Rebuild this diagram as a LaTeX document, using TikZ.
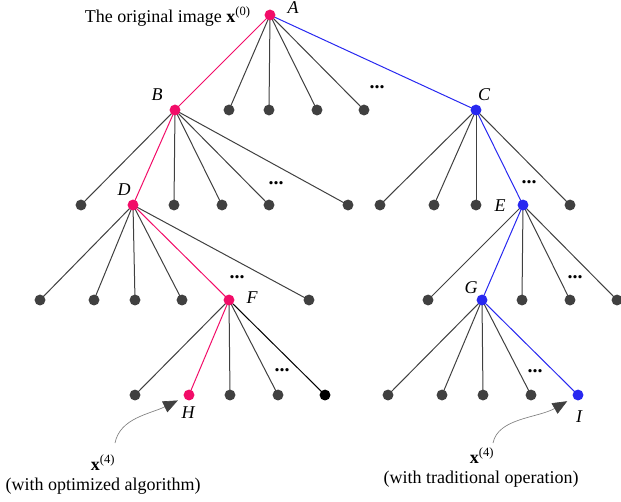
\documentclass[tikz,border=0pt]{standalone}
\usepackage{fontspec}
\setmainfont{Liberation Serif}
\usetikzlibrary{arrows.meta,backgrounds}
\definecolor{pathred}{RGB}{242,12,104}
\definecolor{pathblue}{RGB}{40,40,240}
\definecolor{dotgray}{RGB}{64,64,64}

\begin{document}
\begin{tikzpicture}[x=0.75pt,y=-0.75pt,font=\fontsize{13.5}{16}\selectfont,
   dot/.style={circle,fill=dotgray,inner sep=0pt,minimum size=8.2pt},
   reddot/.style={dot,fill=pathred},
   bluedot/.style={dot,fill=pathblue},
   edge/.style={dotgray,line width=0.75pt},
   more/.style={font=\fontsize{15}{15}\selectfont\bfseries,anchor=base,inner sep=0pt},
   lbl/.style={font=\fontsize{13.5}{16}\selectfont\itshape,anchor=base,inner sep=0pt},
   pointer/.style={-{Triangle[length=11pt,width=9pt,color=dotgray]},gray,line width=0.5pt,shorten >=5pt}]
  \useasboundingbox (0,0) rectangle (621,501);
  \node[reddot]  (A) at (270,15) {};
  \node[reddot]  (B) at (175,110) {};
  \node[bluedot] (C) at (476,110) {};
  \node[reddot]  (D) at (133,205) {};
  \node[bluedot] (E) at (523,205) {};
  \node[reddot]  (F) at (229,300) {};
  \node[bluedot] (G) at (482,300) {};
  \node[reddot]  (H) at (189,395) {};
  \node[bluedot] (I) at (578,395) {};
  \foreach \x [count=\i] in {229,269,317,364} \node[dot] (a\i) at (\x,110) {};
  \foreach \x [count=\i] in {81,174,222,269,348} \node[dot] (b\i) at (\x,205) {};
  \foreach \x [count=\i] in {380,434,476,570} \node[dot] (c\i) at (\x,205) {};
  \foreach \x [count=\i] in {40,94,135,182,309} \node[dot] (d\i) at (\x,300) {};
  \foreach \x [count=\i] in {428,522,570,617} \node[dot] (e\i) at (\x,300) {};
  \foreach \x [count=\i] in {135,230,278} \node[dot] (f\i) at (\x,395) {};
  \node[dot,fill=black] (f4) at (325,395) {};
  \foreach \x [count=\i] in {388,442,483,531} \node[dot] (g\i) at (\x,395) {};
  \begin{scope}[on background layer]
    \foreach \p/\q/\n in {A/a/4,B/b/5,C/c/4,D/d/5,E/e/4,F/f/3,G/g/4}
      \foreach \i in {1,...,\n} \draw[edge] (\p.center) -- (\q\i.center);
    \draw[edge,black] (F.center) -- (f4.center);
    \draw[edge,pathred] (A.center) -- (B.center) -- (D.center) -- (F.center) -- (H.center);
    \draw[edge,pathblue] (A.center) -- (C.center) -- (E.center) -- (G.center) -- (I.center);
  \end{scope}
  \node[more] (ma) at (377,88) {...};
  \node[more] (mb) at (276,184) {...};
  \node[more] (mc) at (529,183) {...};
  \node[more] (md) at (237,278) {...};
  \node[more] (me) at (575,278) {...};
  \node[more] (mf) at (282,371) {...};
  \node[more] (mg) at (535,372) {...};
  \node[lbl] (lA) at (293,13) {A};
  \node[lbl] (lB) at (157,100) {B};
  \node[lbl] (lC) at (484,100) {C};
  \node[lbl] (lD) at (124,195) {D};
  \node[lbl] (lE) at (500,211) {E};
  \node[lbl] (lF) at (252,303) {F};
  \node[lbl] (lG) at (471,293) {G};
  \node[lbl] (lH) at (188,418) {H};
  \node[lbl] (lI) at (579,422) {I};
  \node[anchor=base east,inner sep=0pt] (orig) at (251,22) {The original image \textbf{x}\textsuperscript{(0)}};
  \node[anchor=base] (xH) at (103,470) {\textbf{x}\textsuperscript{(4)}};
  \node[anchor=base] (optH) at (103,490) {(with optimized algorithm)};
  \node[anchor=base] (xI) at (482,463) {\textbf{x}\textsuperscript{(4)}};
  \node[anchor=base] (tradI) at (481,483) {(with traditional operation)};
  \coordinate (startH) at (115,443);
  \coordinate (startI) at (493,443);
  \draw[pointer] (startH) .. controls (120,418) and (150,414) .. (H);
  \draw[pointer] (startI) .. controls (498,418) and (538,418) .. (I);
\end{tikzpicture}
\end{document}
